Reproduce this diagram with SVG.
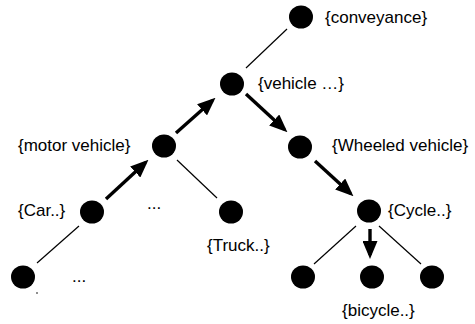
<svg xmlns="http://www.w3.org/2000/svg" width="475" height="324" viewBox="0 0 475 324">
<style>
text{font-family:"Liberation Sans",Arial,sans-serif;font-size:17px;fill:#000}
.node{fill:#000}
.thin{stroke:#000;stroke-width:1.2;fill:none}
.thick{stroke:#000;stroke-width:3.4;fill:none;marker-end:url(#ah)}
</style>
<defs>
<marker id="ah" markerUnits="userSpaceOnUse" markerWidth="18" markerHeight="15" refX="14" refY="7.5" orient="auto">
<path d="M0,0 L18,7.5 L0,15 z" fill="#000"/>
</marker>
</defs>
<rect width="475" height="324" fill="#fff"/>
<g id="connectors">
<line class="thin" x1="287" y1="29" x2="246" y2="68"/>
<line class="thick" x1="176" y1="133" x2="212.5" y2="100.5"/>
<line class="thick" x1="246" y1="94" x2="284.5" y2="129.5"/>
<line class="thick" x1="106" y1="199" x2="145.5" y2="162.5"/>
<line class="thin" x1="177" y1="160" x2="217" y2="198"/>
<line class="thick" x1="315" y1="161" x2="350.5" y2="193.5"/>
<line class="thin" x1="79" y1="226" x2="37" y2="263"/>
<line class="thin" x1="356" y1="226" x2="314" y2="264"/>
<line class="thick" x1="370" y1="229" x2="370" y2="255"/>
<line class="thin" x1="379" y1="226" x2="421" y2="264"/>
</g>
<g id="conveyance"><ellipse class="node" cx="301" cy="17" rx="12" ry="11.5"/><text x="325" y="23">{conveyance}</text></g>
<g id="vehicle"><ellipse class="node" cx="232" cy="84" rx="12" ry="11.5"/><text x="258" y="89">{vehicle …}</text></g>
<g id="motor-vehicle"><ellipse class="node" cx="164" cy="146" rx="12" ry="11.5"/><text x="18" y="151">{motor vehicle}</text></g>
<g id="wheeled-vehicle"><ellipse class="node" cx="300" cy="147" rx="12" ry="11.5"/><text x="332" y="151">{Wheeled vehicle}</text></g>
<g id="car"><ellipse class="node" cx="92" cy="212" rx="12" ry="11.5"/><text x="18" y="216">{Car..}</text></g>
<g id="dots-mid"><text x="147" y="209">...</text></g>
<g id="truck"><ellipse class="node" cx="231" cy="212" rx="12" ry="11.5"/><text x="207" y="251">{Truck..}</text></g>
<g id="cycle"><ellipse class="node" cx="369" cy="211" rx="12" ry="11.5"/><text x="388" y="216">{Cycle..}</text></g>
<g id="bottom-left"><ellipse class="node" cx="23" cy="277" rx="12" ry="11.5"/><circle cx="37" cy="293" r="0.8" fill="#000"/></g>
<g id="dots-bottom"><text x="72" y="282">...</text></g>
<g id="cycle-left"><ellipse class="node" cx="303" cy="277" rx="12" ry="11.5"/></g>
<g id="bicycle"><ellipse class="node" cx="372" cy="277" rx="12" ry="11.5"/><text x="342" y="316">{bicycle..}</text></g>
<g id="cycle-right"><ellipse class="node" cx="432" cy="277" rx="12" ry="11.5"/></g>
</svg>
